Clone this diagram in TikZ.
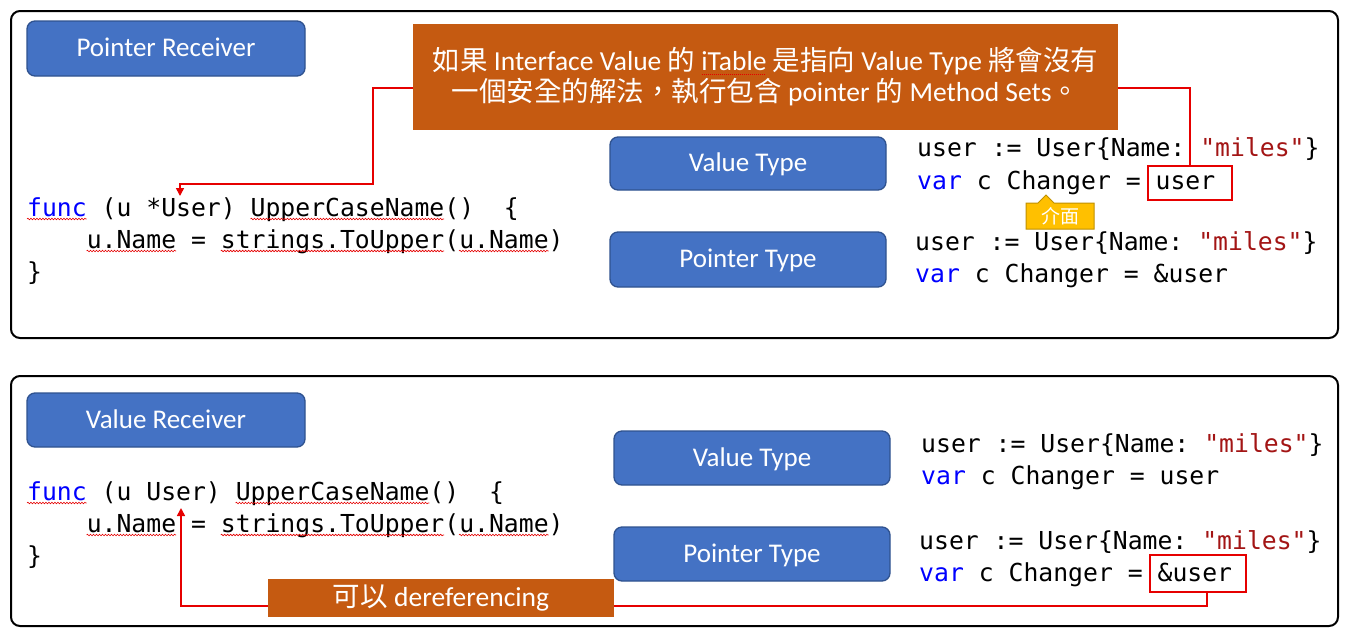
\documentclass[tikz,border=0pt]{standalone}
\usepackage{fontspec}
\setmainfont{Carlito}
\setmonofont{DejaVu Sans Mono}
\newfontfamily\cjk{Noto Sans CJK TC}
\usetikzlibrary{arrows.meta,decorations.pathmorphing}
\definecolor{bfill}{HTML}{4472C4}
\definecolor{bdraw}{HTML}{2F528F}
\definecolor{ofill}{HTML}{C55A11}
\definecolor{redc}{HTML}{E60000}
\definecolor{kwc}{HTML}{0000FF}
\definecolor{strc}{HTML}{A31515}
\definecolor{yfill}{HTML}{FFC000}
\definecolor{ydraw}{HTML}{BF9000}
\newcommand\kw[1]{\textcolor{kwc}{#1}}
\newcommand\strg[1]{\textcolor{strc}{#1}}
\newcommand\cj[1]{{\cjk #1}}
\newcommand\dotul[1]{\setbox0\hbox{#1}\rlap{\raisebox{-4pt}{\textcolor{redc}{\leaders\hbox to 2pt{\hss\rule{1pt}{0.7pt}\hss}\hskip\wd0\relax}}}\box0\relax}
\begin{document}
\begin{tikzpicture}[x=1pt,y=-1pt,
 frame/.style={draw=black,line width=2pt,rounded corners=9pt},
 bluebox/.style={draw=bdraw,line width=1.3pt,fill=bfill,rounded corners=8pt,text=white,font=\fontsize{27}{31}\selectfont,text depth=2pt},
 obox/.style={fill=ofill,text=white,inner sep=0},
 code/.style={anchor=base west,inner sep=0,font=\ttfamily\fontsize{24.75}{30}\selectfont},
 redbox/.style={draw=redc,line width=2pt,inner sep=0},
 redln/.style={draw=redc,line width=1.6pt},
 squig/.style={draw=redc,line width=0.6pt,decorate,decoration={snake,amplitude=0.8pt,segment length=3pt}},
]
\useasboundingbox (0,0) rectangle (1345,641);
\fill[white] (0,0) rectangle (1345,641);

% frames
\draw[frame] (11,11) rectangle (1338,338);
\draw[frame] (11,376) rectangle (1338,626);

% ---------- top panel ----------
\node[bluebox,minimum width=278pt,minimum height=55pt] (pr) at (166,48.5) {Pointer Receiver};
\node[bluebox,minimum width=276pt,minimum height=53pt] (vt1) at (748,163.5) {Value Type};
\node[bluebox,minimum width=276pt,minimum height=55pt] (pt1) at (748,259.5) {Pointer Type};

\node[code] (c1) at (27,216) {\kw{func} (u *User) UpperCaseName()\ \ \{};
\node[code] (c2) at (86.6,248) {u.Name = strings.ToUpper(u.Name)};
\node[code] (c3) at (27,280) {\}};

\node[code] (c4) at (917,156) {user := User\{Name: \strg{"miles"}\}};
\node[code] (c5) at (917,189) {\kw{var} c Changer = user};
\node[code] (c6) at (915,250) {user := User\{Name: \strg{"miles"}\}};
\node[code] (c7) at (915,282) {\kw{var} c Changer = \&user};

\draw[squig] (27,219) -- (86.6,219);
\draw[squig] (250.5,219) -- (444.2,219);
\draw[squig] (86.6,251) -- (176,251);
\draw[squig] (220.7,251) -- (444.2,251);
\draw[squig] (459,251) -- (548.5,251);

\node[redbox,minimum width=84pt,minimum height=34pt] (rb1) at (1190,183) {};

\node[obox,minimum width=705pt,minimum height=106pt,align=center,font=\fontsize{27.5}{31}\selectfont] (note1) at (765.5,76.5)
 {\cj{如果} Interface Value \cj{的} \dotul{iTable} \cj{是指向} Value Type \cj{將會沒有}\\\cj{一個安全的解法，執行包含} pointer \cj{的} Method Sets\cj{。}};

\coordinate (tipA) at (180,196);
\draw[redln,-{Triangle[length=8pt,width=8pt]}] ([yshift=-11.5pt]note1.west) -| (373,184) -| (tipA);
\draw[redln] ([yshift=-11.5pt]note1.east) -| (rb1.north);

\draw[fill=yfill,draw=ydraw,line width=1pt] (1026,203) -- (1038,203) -- (1046,195) -- (1054,203) -- (1094,203) -- (1094,229) -- (1026,229) -- cycle;
\node[text=white,font=\cjk\fontsize{19}{21}\selectfont,inner sep=0] (cb) at (1060,216.5) {介面};

% ---------- bottom panel ----------
\node[bluebox,minimum width=278pt,minimum height=54pt] (vr) at (166,420) {Value Receiver};
\node[bluebox,minimum width=276pt,minimum height=54pt] (vt2) at (752,458) {Value Type};
\node[bluebox,minimum width=276pt,minimum height=54pt] (pt2) at (752,554) {Pointer Type};

\node[code] (d1) at (27,500) {\kw{func} (u User) UpperCaseName()\ \ \{};
\node[code] (d2) at (86.6,532) {u.Name = strings.ToUpper(u.Name)};
\node[code] (d3) at (27,564) {\}};

\draw[squig] (27,503) -- (86.6,503);
\draw[squig] (235.6,503) -- (429.3,503);
\draw[squig] (86.6,535) -- (176,535);
\draw[squig] (220.7,535) -- (444.2,535);
\draw[squig] (459,535) -- (548.5,535);

\node[code] (d4) at (921,452) {user := User\{Name: \strg{"miles"}\}};
\node[code] (d5) at (921,484) {\kw{var} c Changer = user};
\node[code] (d6) at (919,549) {user := User\{Name: \strg{"miles"}\}};
\node[code] (d7) at (919,581) {\kw{var} c Changer = \&user};

\node[redbox,minimum width=96pt,minimum height=37pt] (rb2) at (1198,573.5) {};

\coordinate (tipB) at (181,508);
\draw[redln,-{Triangle[length=8pt,width=8pt]}] ([xshift=9pt]rb2.south) |- (700,606) -| (tipB);

\node[obox,minimum width=346pt,minimum height=38pt,font=\fontsize{27.5}{31}\selectfont] (note2) at (441,598) {\cj{可以} dereferencing};
\end{tikzpicture}
\end{document}
